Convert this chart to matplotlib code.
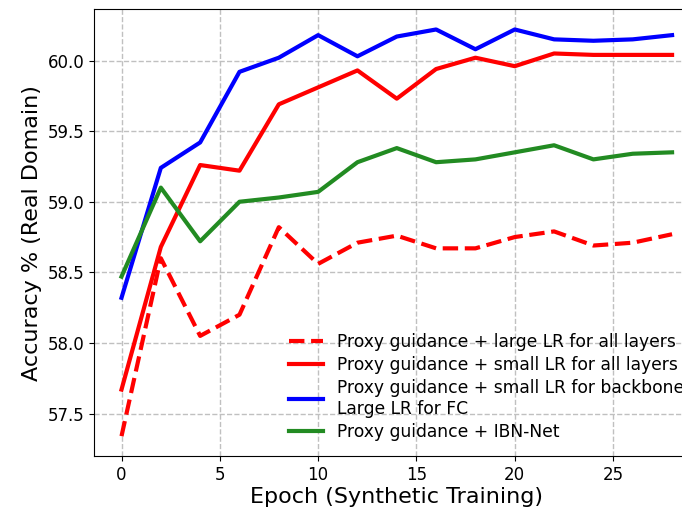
import matplotlib
matplotlib.use('Agg')
import matplotlib.pyplot as plt
import numpy as np

epochs = np.arange(0, 30, 2)

large_lr_all = [57.34, 58.60, 58.05, 58.20, 58.82, 58.56, 58.71, 58.76,
                58.67, 58.67, 58.75, 58.79, 58.69, 58.71, 58.77]
small_lr_all = [57.67, 58.68, 59.26, 59.22, 59.69, 59.81, 59.93, 59.73,
                59.94, 60.02, 59.96, 60.05, 60.04, 60.04, 60.04]
small_lr_backbone = [58.32, 59.24, 59.42, 59.92, 60.02, 60.18, 60.03, 60.17,
                     60.22, 60.08, 60.22, 60.15, 60.14, 60.15, 60.18]
ibn_net = [58.47, 59.10, 58.72, 59.00, 59.03, 59.07, 59.28, 59.38,
           59.28, 59.30, 59.35, 59.40, 59.30, 59.34, 59.35]

labels = ['Proxy guidance + large LR for all layers',
          'Proxy guidance + small LR for all layers',
          'Proxy guidance + small LR for backbone\nLarge LR for FC',
          'Proxy guidance + IBN-Net']

fig = plt.figure(figsize=(6.82, 5.08), dpi=100)
# axes runs a bit past the right edge, like the cropped original
ax = fig.add_axes([0.1378, 0.1014, 0.888, 0.8806])

ax.plot(epochs, large_lr_all, color='red', linestyle='--', linewidth=3, label=labels[0])
ax.plot(epochs, small_lr_all, color='red', linewidth=3, label=labels[1])
ax.plot(epochs, small_lr_backbone, color='blue', linewidth=3, label=labels[2])
ax.plot(epochs, ibn_net, color='forestgreen', linewidth=3, label=labels[3])

ax.grid(True, linestyle='--', color='#c0c0c0', linewidth=1)
ax.set_xticks([0, 5, 10, 15, 20, 25])
ax.set_yticks([57.5, 58.0, 58.5, 59.0, 59.5, 60.0])
ax.tick_params(labelsize=12)
ax.set_xlabel('Epoch (Synthetic Training)', fontsize=16, labelpad=2)
ax.set_ylabel('Accuracy % (Real Domain)', fontsize=16)
ax.legend(loc='lower left', frameon=False, fontsize=12.3,
          bbox_to_anchor=(0.311, 0.02), borderaxespad=0,
          labelspacing=0.3, handlelength=2.0)

fig.savefig('out.png', dpi=100)
